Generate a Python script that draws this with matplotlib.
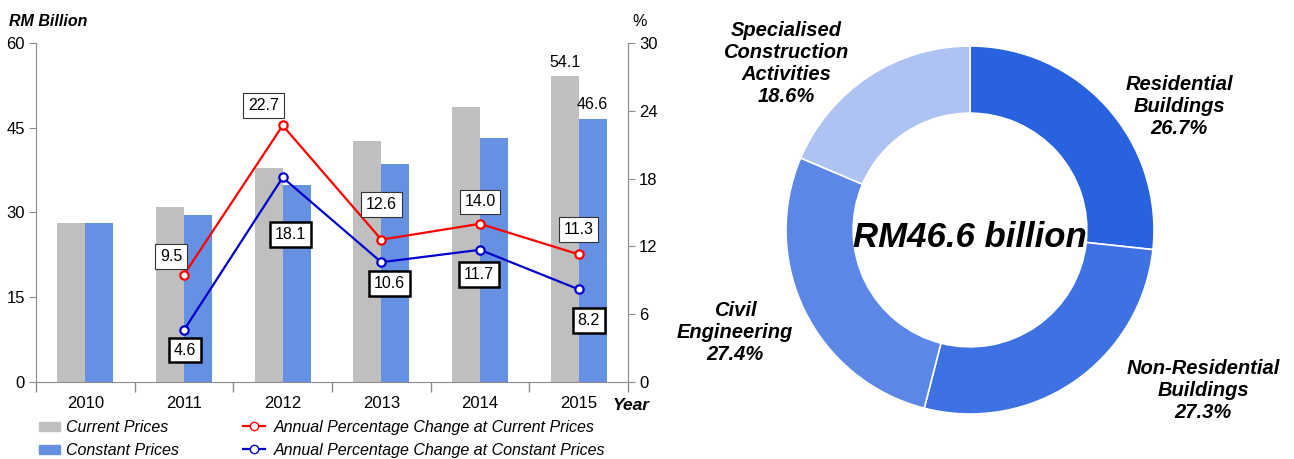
import numpy as np
import matplotlib
matplotlib.use("Agg")
import matplotlib.pyplot as plt
from matplotlib.patches import Patch
from matplotlib.lines import Line2D

plt.rcParams["font.family"] = ["Liberation Sans", "DejaVu Sans"]

# data
years = ["2010", "2011", "2012", "2013", "2014", "2015"]
current_prices = [28.2, 30.9, 37.9, 42.6, 48.6, 54.1]
constant_prices = [28.2, 29.5, 34.9, 38.6, 43.1, 46.6]
pct_years = ["2011", "2012", "2013", "2014", "2015"]
pct_current = [9.5, 22.7, 12.6, 14.0, 11.3]
pct_constant = [4.6, 18.1, 10.6, 11.7, 8.2]

segments = ["Residential\nBuildings", "Non-Residential\nBuildings",
            "Civil\nEngineering", "Specialised\nConstruction\nActivities"]
shares = [26.7, 27.3, 27.4, 18.6]
total_label = "RM46.6 billion"

gray = "#BFBFBF"
bar_blue = "#6690E2"
axis_gray = "#8C8C8C"

W, H = 1294, 459
fig = plt.figure(figsize=(W / 100, H / 100), dpi=100)

# ---- left: bars + lines
ax = fig.add_axes([36 / W, 1 - 382 / H, 592 / W, 339 / H])
x = np.arange(len(years))
bw = 0.285
ax.bar(x - bw / 2, current_prices, width=bw, color=gray)
ax.bar(x + bw / 2, constant_prices, width=bw, color=bar_blue)
ax.set_xlim(-0.5, len(years) - 0.5)
ax.set_ylim(0, 60)
ax.set_yticks([0, 15, 30, 45, 60])
ax.set_xticks(x)
ax.set_xticklabels(years)
ax.set_xticks(np.arange(-0.5, len(years), 1), minor=True)
ax.tick_params(axis="x", which="major", length=0, pad=10, labelsize=12)
ax.tick_params(axis="x", which="minor", length=7, color=axis_gray, width=1)
ax.tick_params(axis="y", length=5, color=axis_gray, labelsize=12, pad=3)
ax.spines["top"].set_visible(False)
for s in ["left", "bottom", "right"]:
    ax.spines[s].set_color(axis_gray)

ax.text(x[-1] - bw / 2, current_prices[-1] + 1.2, f"{current_prices[-1]:.1f}",
        ha="center", va="bottom", fontsize=11.5)
ax.text(x[-1] + bw / 2, constant_prices[-1] + 1.2, f"{constant_prices[-1]:.1f}",
        ha="center", va="bottom", fontsize=11.5)

ax2 = ax.twinx()
ax2.set_ylim(0, 30)
ax2.set_yticks([0, 6, 12, 18, 24, 30])
ax2.tick_params(axis="y", length=5, color=axis_gray, labelsize=12, pad=3)
for s in ["top", "left", "bottom"]:
    ax2.spines[s].set_visible(False)
ax2.spines["right"].set_color(axis_gray)

px = [years.index(y) for y in pct_years]
ax2.plot(px, pct_current, color="#FF0000", lw=1.6, marker="o", ms=6,
         mfc="white", mew=1.6, zorder=5)
ax2.plot(px, pct_constant, color="#0000CC", lw=1.6, marker="o", ms=6,
         mfc="white", mew=1.6, zorder=5)

red_off = [(-13, 18), (-19, 20), (0, 35), (0, 22), (0, 25)]
blue_off = [(1, -20), (8, -57), (8, -21), (-1, -25), (10, -31)]
for xi, v, off in zip(px, pct_current, red_off):
    ax2.annotate(f"{v:.1f}", (xi, v), xytext=off, textcoords="offset pixels",
                 ha="center", va="center", fontsize=11.5, zorder=6,
                 bbox=dict(boxstyle="square,pad=0.3", fc="white", ec="#333333", lw=0.8))
for xi, v, off in zip(px, pct_constant, blue_off):
    ax2.annotate(f"{v:.1f}", (xi, v), xytext=off, textcoords="offset pixels",
                 ha="center", va="center", fontsize=11.5, zorder=6,
                 bbox=dict(boxstyle="square,pad=0.3", fc="white", ec="black", lw=1.8))

fig.text(9 / W, 1 - 21 / H, "RM Billion", fontsize=11.5, fontweight="bold",
         fontstyle="italic", va="center", ha="left")
fig.text(640 / W, 1 - 21 / H, "%", fontsize=11.5, va="center", ha="center")
fig.text(613 / W, 1 - 405 / H, "Year", fontsize=12.5, fontweight="bold",
         fontstyle="italic", va="center", ha="left")

leg1 = fig.legend(handles=[Patch(color=gray), Patch(color=bar_blue)],
                  labels=["Current Prices", "Constant Prices"],
                  loc="upper left", bbox_to_anchor=(39 / W, 1 - 420 / H),
                  frameon=False, prop=dict(size=11.5, style="italic"),
                  handlelength=1.3, handleheight=0.5, handletextpad=0.4,
                  labelspacing=0.5, borderpad=0, borderaxespad=0)
leg2 = fig.legend(handles=[Line2D([], [], color="#FF0000", marker="o", mfc="white", ms=6, lw=1.6),
                           Line2D([], [], color="#0000CC", marker="o", mfc="white", ms=6, lw=1.6)],
                  labels=["Annual Percentage Change at Current Prices",
                          "Annual Percentage Change at Constant Prices"],
                  loc="upper left", bbox_to_anchor=(243 / W, 1 - 420 / H),
                  frameon=False, prop=dict(size=11.5, style="italic"),
                  handlelength=1.35, handletextpad=0.6,
                  labelspacing=0.5, borderpad=0, borderaxespad=0)

# ---- right: donut
r = 184
cx, cy = 970, 230
pax = fig.add_axes([(cx - r) / W, 1 - (cy + r) / H, 2 * r / W, 2 * r / H])
colors = ["#2962DE", "#3E72E2", "#5C87E6", "#AFC3F2"]
pax.pie(shares, colors=colors, startangle=90, counterclock=False, radius=1,
        wedgeprops=dict(width=0.365, edgecolor="white", linewidth=1.2))
pax.set_xlim(-1, 1)
pax.set_ylim(-1, 1)
pax.text(0, -0.04, total_label, ha="center", va="center", fontsize=25,
         fontweight="bold", fontstyle="italic")

label_pos = [(1179, 107), (1203, 391), (735, 333), (786, 64)]
for name, v, (lx, ly) in zip(segments, shares, label_pos):
    fig.text(lx / W, 1 - ly / H, f"{name}\n{v:.1f}%", ha="center", va="center",
             fontsize=14.5, fontweight="bold", fontstyle="italic", linespacing=1.2)

fig.savefig("out.png", dpi=100)
